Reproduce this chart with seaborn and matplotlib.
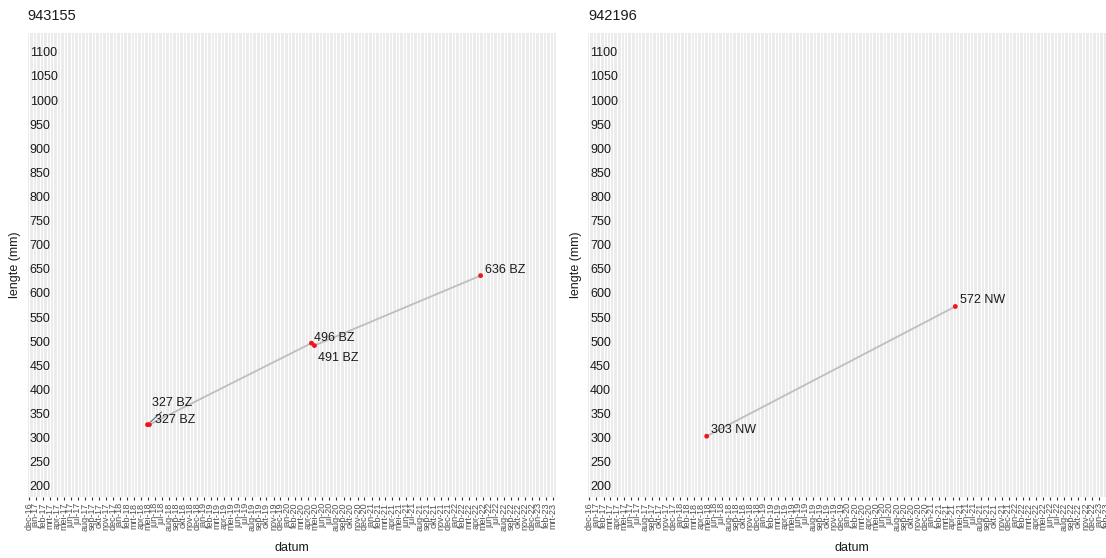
import pandas as pd
import matplotlib
matplotlib.use("Agg")
import matplotlib.pyplot as plt
import matplotlib.dates as mdates
from matplotlib.ticker import MultipleLocator, FuncFormatter
import seaborn as sns

# vis 943155
datum_943155 = ['2018-05-01', '2018-05-09', '2020-04-14', '2020-04-27', '2022-04-21']
lengte_943155 = [327, 327, 496, 491, 636]
code_943155 = ['BZ', 'BZ', 'BZ', 'BZ', 'BZ']

# vis 942196
datum_942196 = ['2018-04-26', '2021-04-13']
lengte_942196 = [303, 572]
code_942196 = ['NW', 'NW']

maanden = ['jan', 'feb', 'mrt', 'apr', 'mei', 'jun', 'jul', 'aug', 'sep', 'okt', 'nov', 'dec']

# label offsets in pixels (ggrepel-like placement)
offsets_943155 = [(4, 22), (6, 5), (3, 5), (4, -12), (4, 6)]
offsets_942196 = [(4, 6), (5, 6)]

sns.set_style("darkgrid", {"axes.facecolor": "#EBEBEB", "grid.color": "white"})
plt.rcParams['font.family'] = ['Liberation Sans', 'DejaVu Sans']

W, H = 1106, 558
fig = plt.figure(figsize=(W / 100, H / 100), dpi=100)
fig.patch.set_facecolor('white')

x_min = pd.Timestamp('2016-11-25')
x_max = pd.Timestamp('2023-03-14')


def maand_fmt(x, pos):
    d = mdates.num2date(x)
    return f"{maanden[d.month - 1]}-{d:%y}"


def panel(left_px, title, datums, lengtes, codes, offsets, repel_line=None):
    ax = fig.add_axes([left_px / W, 1 - 497 / H, 528 / W, 464 / H])
    df = pd.DataFrame({'datum': pd.to_datetime(datums), 'lengte': lengtes, 'code': codes})
    sns.lineplot(data=df, x='datum', y='lengte', ax=ax, color='#BEBEBE', lw=1.3,
                 sort=True, estimator=None)
    sns.scatterplot(data=df, x='datum', y='lengte', ax=ax, color='#F0141E', s=12,
                    edgecolor='none', zorder=5)
    for i, row in df.iterrows():
        dx, dy = offsets[i]
        arrow = None
        if repel_line is not None and i == repel_line:
            arrow = dict(arrowstyle='-', color='#555555', lw=0.7, shrinkA=0, shrinkB=3)
        ax.annotate(f"{row['lengte']} {row['code']}", (mdates.date2num(row['datum']), row['lengte']),
                    xytext=(dx, dy), textcoords='offset pixels', fontsize=9,
                    ha='left', va='center', color='#1A1A1A', arrowprops=arrow)

    ax.set_xlim(x_min, x_max)
    ax.set_ylim(177, 1139)

    ax.xaxis.set_major_locator(mdates.MonthLocator())
    ax.xaxis.set_minor_locator(mdates.MonthLocator(bymonthday=16))
    ax.xaxis.set_major_formatter(FuncFormatter(maand_fmt))
    ax.yaxis.set_major_locator(MultipleLocator(50))
    ax.yaxis.set_minor_locator(MultipleLocator(150))

    ax.grid(False)
    ax.grid(True, axis='x', which='both', color='white', lw=0.8)
    ax.grid(True, axis='y', which='minor', color='white', lw=1.0)

    ax.tick_params(axis='x', which='major', labelrotation=90, labelsize=6.5,
                   labelcolor='#4D4D4D', length=2.5, width=0.8, color='#333333',
                   bottom=True, pad=1.5)
    ax.tick_params(axis='x', which='minor', length=0)
    ax.tick_params(axis='y', which='both', length=0, labelsize=9,
                   labelcolor='#1A1A1A', pad=-1.5)
    for lab in ax.get_yticklabels():
        lab.set_ha('left')

    for s in ax.spines.values():
        s.set_visible(False)

    ax.set_title(title, loc='left', fontsize=10.5, pad=9, color='#1A1A1A')
    ax.set_xlabel('datum', fontsize=9, color='#1A1A1A')
    ax.set_ylabel('lengte (mm)', fontsize=9, color='#1A1A1A')
    ax.xaxis.set_label_coords(0.5, -0.098)
    ax.yaxis.set_label_coords(-0.012, 0.5)
    return ax


panel(27.7, '943155', datum_943155, lengte_943155, code_943155, offsets_943155, repel_line=0)
panel(588, '942196', datum_942196, lengte_942196, code_942196, offsets_942196)

fig.savefig('out.png', dpi=100, facecolor='white')
